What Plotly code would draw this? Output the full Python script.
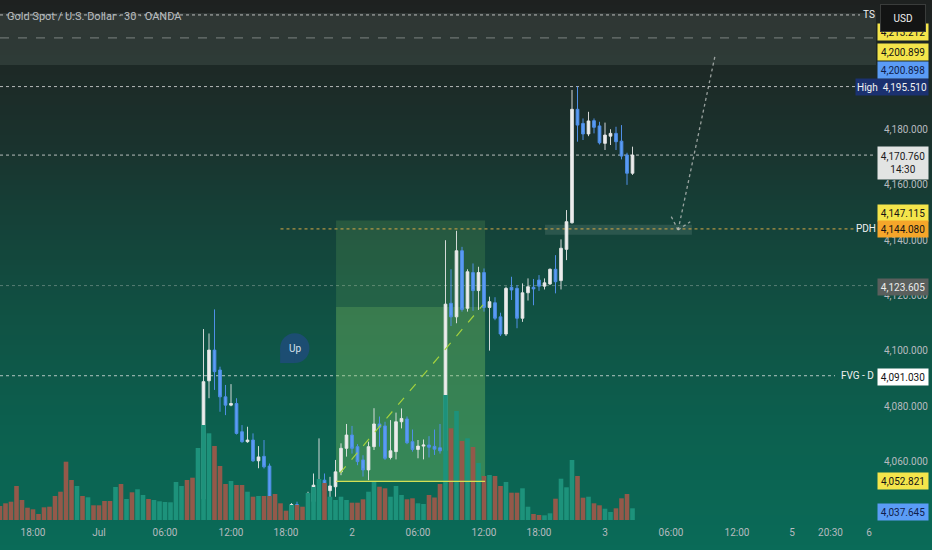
import plotly.graph_objects as go

# ---------------------------------------------------------------------------
# XAUUSD 30m bars. x = bar number counted from the left edge of the chart.
# Bars before FIRST_BAR sit below the visible price range (only volume shows).
# ---------------------------------------------------------------------------
FIRST_BAR = 36

opens = [4035.0, 4046.4, 4089.2, 4100.3, 4093.1, 4083.4, 4080.4, 4081.0, 4070.8, 4067.2,
         4067.8, 4060.3, 4061.9, 4058.4, 4036.0, 4031.5, 4030.0, 4029.0, 4044.5, 4035.0,
         4032.0, 4045.5, 4051.5, 4053.3, 4049.5, 4050.9, 4056.3, 4064.8, 4069.6, 4065.4,
         4060.6, 4057.0, 4065.4, 4073.6, 4072.9, 4061.5, 4063.6, 4074.4, 4075.4, 4067.2,
         4064.4, 4065.6, 4066.0, 4065.5, 4065.0, 4063.9, 4117.2, 4112.3, 4136.2, 4115.4,
         4128.3, 4121.8, 4128.3, 4115.7, 4117.4, 4112.3, 4106.1, 4123.0, 4122.6, 4111.8,
         4121.0, 4123.0, 4125.6, 4123.4, 4124.2, 4129.5, 4125.4, 4136.7, 4146.3, 4187.3,
         4182.2, 4178.4, 4183.2, 4181.3, 4175.0, 4177.6, 4178.6, 4175.8, 4170.8, 4164.2]
highs = [4047.5, 4107.9, 4106.3, 4115.0, 4094.3, 4087.7, 4088.0, 4082.9, 4073.2, 4072.6,
         4070.2, 4065.6, 4067.8, 4059.3, 4038.0, 4035.0, 4034.5, 4045.0, 4045.5, 4038.0,
         4049.1, 4055.7, 4068.4, 4055.7, 4054.5, 4060.6, 4066.6, 4073.6, 4072.9, 4066.3,
         4062.3, 4067.2, 4079.3, 4076.3, 4074.4, 4075.0, 4077.7, 4079.2, 4076.3, 4071.6,
         4067.8, 4068.0, 4069.2, 4071.6, 4073.6, 4140.0, 4129.5, 4143.4, 4137.6, 4129.5,
         4131.6, 4130.4, 4129.8, 4119.6, 4119.4, 4113.8, 4123.2, 4126.8, 4123.8, 4124.4,
         4126.2, 4126.0, 4127.4, 4126.2, 4129.8, 4134.6, 4140.3, 4150.9, 4194.3, 4195.51,
         4184.0, 4186.4, 4184.0, 4182.8, 4182.5, 4180.1, 4181.0, 4181.6, 4171.6, 4173.8]
lows = [4033.0, 4041.5, 4082.9, 4085.9, 4078.0, 4076.8, 4080.0, 4069.8, 4066.8, 4066.8,
        4059.9, 4057.6, 4057.5, 4034.0, 4029.5, 4027.0, 4026.5, 4028.0, 4033.0, 4030.0,
        4031.0, 4043.7, 4050.3, 4048.5, 4041.3, 4047.3, 4055.1, 4061.8, 4062.9, 4058.7,
        4054.6, 4053.3, 4064.2, 4065.4, 4060.6, 4060.8, 4060.8, 4072.0, 4066.3, 4063.6,
        4061.2, 4060.8, 4061.5, 4062.4, 4062.9, 4062.0, 4109.0, 4110.0, 4114.2, 4114.2,
        4114.5, 4114.8, 4114.2, 4100.1, 4111.1, 4105.4, 4105.4, 4118.4, 4108.2, 4110.5,
        4118.2, 4116.5, 4121.7, 4122.2, 4123.8, 4120.8, 4122.2, 4132.8, 4146.0, 4175.6,
        4176.2, 4177.6, 4178.6, 4174.6, 4172.6, 4174.4, 4172.6, 4169.2, 4160.0, 4163.6]
closes = [4046.4, 4088.9, 4100.3, 4092.5, 4083.4, 4080.4, 4081.0, 4070.2, 4067.2, 4067.8,
          4060.3, 4061.7, 4058.1, 4036.0, 4031.5, 4030.0, 4029.0, 4044.5, 4035.0, 4032.0,
          4046.1, 4051.5, 4053.3, 4049.5, 4051.2, 4056.3, 4064.8, 4069.6, 4064.8, 4060.0,
          4057.0, 4065.4, 4073.6, 4072.4, 4061.2, 4063.9, 4074.4, 4075.6, 4066.8, 4064.4,
          4065.6, 4066.0, 4065.2, 4064.5, 4063.9, 4116.9, 4112.3, 4136.2, 4115.0, 4128.6,
          4121.8, 4128.3, 4115.7, 4117.8, 4111.8, 4106.1, 4122.6, 4122.0, 4111.8, 4121.0,
          4123.2, 4122.4, 4123.4, 4124.6, 4129.5, 4125.0, 4137.1, 4146.7, 4187.3, 4181.6,
          4178.4, 4183.1, 4180.8, 4175.2, 4178.0, 4178.6, 4175.6, 4170.4, 4164.2, 4170.76]

# volume (thousands), one per bar from bar 0
volumes = [14, 16.7, 18.3, 34, 20, 12.3, 10.7, 6, 12.7, 13.3,
           24, 28.3, 58.3, 40, 34, 24, 22.7, 14.7, 14.7, 19,
           19, 33, 36, 21, 27.7, 30.7, 25, 21, 20, 18.7,
           18, 17.7, 38, 34, 40, 42.3, 72, 95, 86.7, 74,
           54, 36, 39, 35, 35, 28.3, 23.3, 24, 24, 24,
           26, 16.7, 9.3, 15, 15, 13.3, 27, 33, 41, 37,
           23.3, 20, 23.3, 20, 17.3, 17.3, 20.7, 28.3, 38.3, 33.3,
           31.7, 23.3, 34, 25, 20.7, 21.7, 16.7, 16, 25, 22.5,
           36, 125, 91.7, 109, 79, 81.7, 73, 57, 44, 45,
           44, 34, 38, 27.3, 27.3, 31.7, 13.3, 6, 5, 4.7,
           6.7, 21.3, 41.3, 32.7, 60, 44, 22.3, 23.3, 16.7, 14.7,
           11.3, 8, 11.7, 21.7, 26, 11.7]
# direction of the bars whose candles are off-screen ("g" up, "r" down)
early_vol_dir = "rrrrrrrrrrrrrrgrgrrrrgrgrggrggggggrr"

tick_bars = [6, 18, 30, 42, 52, 64, 76, 88, 98, 110, 122, 134, 144, 151, 158]
tick_text = ["18:00", "Jul", "06:00", "12:00", "18:00", "2", "06:00", "12:00",
             "18:00", "3", "06:00", "12:00", "5", "20:30", "6"]

price_ticks = [4060, 4080, 4100, 4120, 4140, 4160, 4180]

# horizontal levels
ts_level = 4221.4
dash_level = 4213.1
high_level = 4195.51
last_price = 4170.76
pdh_level = 4144.08
mid_level = 4123.605
fvg_level = 4091.03

# long-position tool
pos_bars = [61.1, 88.2]
pos_target, pos_entry, pos_stop = 4147.115, 4115.9, 4052.821
pos_path_bars = [61.8, 87.8]
pos_path_prices = [4055.8, 4116.6]

# drawings
top_zone = [4203.3, 4222.1]
pdh_zone_bars = [99.1, 125.8]
pdh_zone_prices = [4142.0, 4145.6]
arrow_bars = [123.3, 130.0]
arrow_prices = [4143.7, 4206.6]
bubble_bar, bubble_price = 53.6, 4101.0

# price-scale labels: text, price, background, text colour, pixel shift
price_labels = [
    ("4,213.212", 4213.212, "#f4e54b", "#141414", 6),
    ("4,200.899", 4200.899, "#f4e54b", "#141414", 20),
    ("4,200.898", 4200.898, "#5b9cf6", "#10204a", 2),
    ("4,147.115", 4147.115, "#f4e54b", "#141414", 8),
    ("4,144.080", 4144.080, "#f5a62a", "#141414", 0),
    ("4,123.605", 4123.605, "#5a5f5d", "#ececec", -1),
    ("4,091.030", 4091.030, "#ffffff", "#141414", -1),
    ("4,052.821", 4052.821, "#f4e54b", "#141414", 0),
    ("4,037.645", 4037.645, "#5b9cf6", "#10204a", 8),
]

# ---------------------------------------------------------------------------
W, H = 876, 520            # plot area in px (price scale to the right)
Y_RANGE = [4038.9, 4226.8]
X_RANGE = [0, W / 5.5]
FONT = "Roboto, Liberation Sans, sans-serif"
AXIS_TXT = "#b6babf"
FS = 10


def px_x(px):
    return px / W


def px_y(py):
    return (H - py) / H


def lerp_color(stops, y):
    for (y0, c0), (y1, c1) in zip(stops, stops[1:]):
        if y0 <= y <= y1:
            t = (y - y0) / (y1 - y0)
            return "rgb(%d,%d,%d)" % tuple(round(a + (b - a) * t) for a, b in zip(c0, c1))
    return "rgb(%d,%d,%d)" % stops[-1][1]


def label(text, x, y, yref="y", **kw):
    d = dict(text=text, xref="paper", yref=yref, x=x, y=y, xanchor="center",
             yanchor="middle", showarrow=False)
    d.update(kw)
    return d


bars = list(range(FIRST_BAR, FIRST_BAR + len(opens)))
vol_up = [d == "g" for d in early_vol_dir] + [c >= o for o, c in zip(opens, closes)]
vol_colors = ["#1d927b" if up else "#93594a" for up in vol_up]

fig = go.Figure()
fig.add_trace(go.Bar(
    x=list(range(len(volumes))), y=volumes, yaxis="y2",
    marker=dict(color=vol_colors, line=dict(width=0)), width=0.84,
    hoverinfo="skip",
))
fig.add_trace(go.Candlestick(
    x=bars, open=opens, high=highs, low=lows, close=closes,
    increasing=dict(line=dict(color="rgba(232,232,232,0.9)", width=1), fillcolor="#ededed"),
    decreasing=dict(line=dict(color="#4f8fe6", width=1), fillcolor="#5b9cf6"),
    whiskerwidth=0, hoverinfo="skip",
))

shapes = []
# background gradient
grad = [(0, (30, 33, 32)), (70, (29, 41, 38)), (140, (26, 50, 45)), (220, (21, 65, 56)),
        (320, (16, 82, 68)), (420, (12, 95, 78)), (550, (10, 107, 88))]
for yy in range(0, 550, 5):
    shapes.append(dict(type="rect", xref="paper", yref="paper", x0=-0.01, x1=1.07,
                       y0=px_y(yy + 5.5), y1=px_y(yy), fillcolor=lerp_color(grad, yy + 2.5),
                       line=dict(width=0), layer="below"))

# top zone
shapes.append(dict(type="rect", xref="paper", yref="y", x0=0, x1=1,
                   y0=top_zone[0], y1=top_zone[1], fillcolor="rgba(150,165,158,0.15)",
                   line=dict(width=0), layer="below"))
# long position
shapes.append(dict(type="rect", x0=pos_bars[0], x1=pos_bars[1], y0=pos_entry, y1=pos_target,
                   fillcolor="rgba(130,200,100,0.17)", line=dict(width=0), layer="below"))
shapes.append(dict(type="rect", x0=pos_bars[0], x1=pos_bars[1], y0=pos_stop, y1=pos_entry,
                   fillcolor="rgba(130,200,100,0.36)", line=dict(width=0), layer="below"))
shapes.append(dict(type="line", x0=pos_bars[0], x1=pos_bars[1], y0=pos_stop, y1=pos_stop,
                   line=dict(color="#d2df55", width=1.3)))
shapes.append(dict(type="line", x0=pos_path_bars[0], x1=pos_path_bars[1],
                   y0=pos_path_prices[0], y1=pos_path_prices[1],
                   line=dict(color="#a3d23e", width=1.2, dash="dash")))
# PDH zone
shapes.append(dict(type="rect", x0=pdh_zone_bars[0], x1=pdh_zone_bars[1],
                   y0=pdh_zone_prices[0], y1=pdh_zone_prices[1],
                   fillcolor="rgba(200,215,205,0.13)", line=dict(width=0), layer="below"))

dot_white = dict(color="rgba(235,235,235,0.75)", width=1, dash="dot")
levels = [
    (ts_level, 0, 860, dot_white),
    (dash_level, 0, W, dict(color="rgba(190,195,192,0.55)", width=1, dash="dash")),
    (high_level, 0, 855, dot_white),
    (last_price, 0, W, dot_white),
    (mid_level, 0, W, dict(color="rgba(190,200,195,0.4)", width=1, dash="dot")),
    (fvg_level, 0, 835, dot_white),
]
for price, a, b, ln in levels:
    shapes.append(dict(type="line", xref="paper", yref="y", x0=px_x(a), x1=px_x(b),
                       y0=price, y1=price, line=ln, layer="below"))
shapes.append(dict(type="line", xref="x", yref="y", x0=51, x1=855 / 5.5,
                   y0=pdh_level, y1=pdh_level,
                   line=dict(color="#d6a646", width=1, dash="dot"), layer="below"))

# projected path arrow
arrow_ln = dict(color="rgba(185,190,188,0.8)", width=1.3, dash="dot")
shapes.append(dict(type="line", x0=arrow_bars[0], x1=arrow_bars[1],
                   y0=arrow_prices[0], y1=arrow_prices[1], line=arrow_ln))
shapes.append(dict(type="line", x0=arrow_bars[0], x1=arrow_bars[0] - 1.3,
                   y0=arrow_prices[0], y1=arrow_prices[0] + 5.0, line=arrow_ln))
shapes.append(dict(type="line", x0=arrow_bars[0], x1=arrow_bars[0] + 2.2,
                   y0=arrow_prices[0], y1=arrow_prices[0] + 3.0, line=arrow_ln))

# "Up" bubble
rx, ry = 2.67, 5.4
shapes.append(dict(type="circle", x0=bubble_bar - rx, x1=bubble_bar + rx,
                   y0=bubble_price - ry, y1=bubble_price + ry,
                   fillcolor="#1c4d72", line=dict(width=0)))
shapes.append(dict(type="rect", x0=bubble_bar - rx, x1=bubble_bar,
                   y0=bubble_price - ry, y1=bubble_price,
                   fillcolor="#1c4d72", line=dict(width=0)))

white_txt = dict(color="#f0f0f0", size=FS, family=FONT)
annotations = [
    dict(text="Up", x=bubble_bar, y=bubble_price, showarrow=False,
         xanchor="center", yanchor="middle",
         font=dict(color="#d5e1ec", size=FS, family=FONT)),
    label("Gold Spot / U.S. Dollar · 30 · OANDA", px_x(5), px_y(16), yref="paper",
          xanchor="left", font=dict(color="#b8bcbf", size=11, family=FONT)),
    label("TS", px_x(869), ts_level, font=white_txt),
    label("PDH", px_x(866), pdh_level, font=white_txt),
    label("FVG - D", px_x(857), fvg_level, font=white_txt),
    label(f"High  {high_level:,.3f}", px_x(892), high_level, width=70, height=14,
          bgcolor="#1b3170", font=dict(color="#f2f2f2", size=FS, family=FONT)),
    label(f"{last_price:,.3f}<br>14:30", px_x(903), last_price, yanchor="top", yshift=9,
          width=48, height=30, bgcolor="#e2e4e3",
          font=dict(color="#1a1a1a", size=FS, family=FONT)),
]
for text, price, bg, fg, shift in price_labels:
    yv = min(max(price, Y_RANGE[0]), Y_RANGE[1])
    annotations.append(label(text, px_x(903), yv, yshift=shift, width=48, height=14,
                             bgcolor=bg, font=dict(color=fg, size=FS, family=FONT)))
annotations.append(label("USD", px_x(903), px_y(18), yref="paper", width=40, height=22,
                         bgcolor="#131414", bordercolor="#3a3c3b", borderwidth=1,
                         borderpad=2, font=white_txt))

fig.update_layout(
    width=932, height=550,
    margin=dict(l=0, r=932 - W, t=0, b=550 - H),
    paper_bgcolor="#0c6350", plot_bgcolor="rgba(0,0,0,0)",
    showlegend=False, dragmode=False,
    shapes=shapes, annotations=annotations,
    font=dict(family=FONT, color=AXIS_TXT, size=FS),
    xaxis=dict(range=X_RANGE, rangeslider=dict(visible=False), showgrid=False,
               zeroline=False, showline=False, ticks="", tickvals=tick_bars,
               ticktext=tick_text, ticklabelstandoff=5,
               tickfont=dict(color=AXIS_TXT, size=FS, family=FONT)),
    yaxis=dict(range=Y_RANGE, side="right", showgrid=False, zeroline=False,
               showline=False, ticks="", tickvals=price_ticks, tickformat=",.3f",
               ticklabelstandoff=7, tickfont=dict(color=AXIS_TXT, size=FS, family=FONT)),
    yaxis2=dict(range=[0, H], overlaying="y", visible=False),
)

fig.write_html("out.html", config={"displayModeBar": False},
               post_script="document.body.style.margin='0';")
